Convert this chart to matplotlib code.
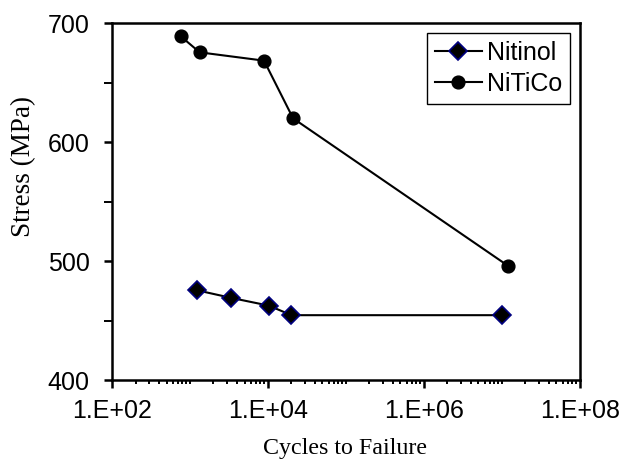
import numpy as np
import matplotlib
matplotlib.use("Agg")
import matplotlib.pyplot as plt
from matplotlib.ticker import LogLocator, FixedLocator, FuncFormatter, NullFormatter

# Data
nitinol_cycles = [1220, 3400, 10300, 20000, 1.0e7]
nitinol_stress = [475.5, 469, 462.5, 454.5, 454.5]

nitico_cycles = [760, 1330, 8900, 21000, 1.2e7]
nitico_stress = [689, 675.5, 668.5, 620, 496]

fig = plt.figure(figsize=(6.33, 4.61), dpi=100)
ax = fig.add_axes([0.177, 0.1757, 0.739, 0.774])

ax.plot(nitinol_cycles, nitinol_stress, color="black", lw=1.5,
        marker="D", markersize=9.6, markerfacecolor="black",
        markeredgecolor="#000080", markeredgewidth=1.2, label="Nitinol")
ax.plot(nitico_cycles, nitico_stress, color="black", lw=1.5,
        marker="o", markersize=9.2, markerfacecolor="black",
        markeredgecolor="black", label="NiTiCo")

ax.set_xscale("log")
ax.set_xlim(1e2, 1e8)
ax.set_ylim(400, 700)

ax.xaxis.set_major_locator(FixedLocator([1e2, 1e4, 1e6, 1e8]))
ax.xaxis.set_minor_locator(LogLocator(base=10, subs=np.arange(1, 10), numticks=20))
ax.xaxis.set_minor_formatter(NullFormatter())
ax.xaxis.set_major_formatter(FuncFormatter(lambda v, p: "1.E+%02d" % round(np.log10(v))))
ax.yaxis.set_major_locator(FixedLocator([400, 500, 600, 700]))
ax.yaxis.set_minor_locator(FixedLocator([450, 550, 650]))

for s in ax.spines.values():
    s.set_linewidth(1.8)

ax.tick_params(axis="both", which="major", direction="out", length=5.5, width=1.8,
               labelsize=18)
ax.tick_params(axis="x", which="major", pad=8)
ax.tick_params(axis="y", which="major", pad=10.5)
ax.tick_params(axis="y", which="minor", direction="out", length=5.5, width=1.4)
ax.tick_params(axis="x", which="minor", direction="out", length=3, width=1.4)
for lab in ax.get_xticklabels() + ax.get_yticklabels():
    lab.set_fontfamily("Liberation Sans")

ax.set_xlabel("Cycles to Failure", fontfamily="Liberation Serif", fontsize=17.3)
ax.set_ylabel("Stress (MPa)", fontfamily="Liberation Serif", fontsize=19.5)
ax.xaxis.set_label_coords(0.499, -0.162)
ax.yaxis.set_label_coords(-0.162, 0.598)

leg = ax.legend(loc="upper right", prop={"family": "Liberation Sans", "size": 18},
                fancybox=False, edgecolor="black", framealpha=1,
                handlelength=1.9, handletextpad=0.2, borderpad=0.3,
                labelspacing=0.3, borderaxespad=0.4)
leg.get_frame().set_linewidth(1.0)

fig.savefig("out.png", dpi=100)
